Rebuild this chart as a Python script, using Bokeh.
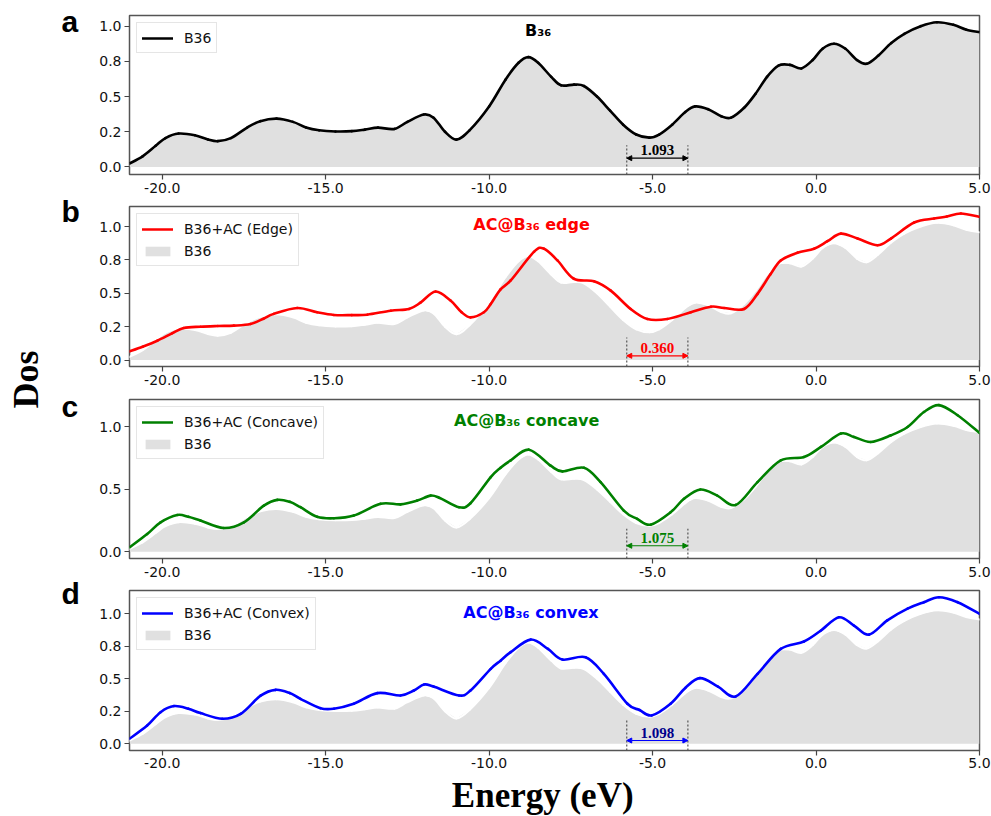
import numpy as np
from bokeh.plotting import figure
from bokeh.layouts import row, column
from bokeh.models import (Range1d, FixedTicker, PrintfTickFormatter, Legend,
                          LegendItem, Arrow, NormalHead)
from bokeh.embed import file_html
from bokeh.resources import INLINE
from bokeh.core.properties import value

# ---------------- data ----------------
energy_b36 = [-21.0, -20.6, -20.2, -19.9, -19.5, -19.0, -18.6, -18.3, -17.9, -17.4,
              -17.0, -16.5, -16.0, -15.6, -15.2, -14.7, -14.2, -13.8, -13.4, -12.9,
              -12.5, -12.0, -11.7, -11.35, -11.0, -10.6, -10.0, -9.5, -9.1, -8.8,
              -8.5, -8.1, -7.8, -7.4, -7.1, -6.7, -6.3, -5.9, -5.5, -5.1,
              -4.8, -4.4, -4.0, -3.7, -3.3, -2.9, -2.6, -2.2, -1.85, -1.5,
              -1.15, -0.8, -0.45, -0.1, 0.2, 0.55, 0.9, 1.25, 1.55, 1.9,
              2.3, 2.7, 3.2, 3.7, 4.2, 4.6, 5.0]
dos_b36 = [0.024, 0.075, 0.15, 0.205, 0.237, 0.225, 0.195, 0.183, 0.205, 0.28,
           0.325, 0.343, 0.32, 0.28, 0.26, 0.252, 0.254, 0.265, 0.279, 0.27,
           0.32, 0.372, 0.35, 0.25, 0.194, 0.26, 0.43, 0.62, 0.74, 0.78,
           0.74, 0.64, 0.58, 0.585, 0.575, 0.50, 0.40, 0.30, 0.23, 0.208,
           0.23, 0.30, 0.39, 0.43, 0.41, 0.36, 0.35, 0.42, 0.52, 0.64,
           0.72, 0.725, 0.70, 0.76, 0.84, 0.875, 0.84, 0.76, 0.733, 0.79,
           0.88, 0.946, 1.0, 1.028, 1.01, 0.975, 0.957]

energy_edge = [-21.0, -20.6, -20.15, -19.7, -19.34, -18.83, -18.3, -17.81, -17.3, -16.9,
               -16.59, -15.87, -15.26, -14.75, -14.2, -13.73, -13.01, -12.45, -12.1, -11.64,
               -11.18, -10.85, -10.57, -10.16, -9.95, -9.65, -9.34, -8.63, -8.32, -7.91,
               -7.41, -6.79, -6.28, -5.67, -5.16, -4.55, -3.83, -3.22, -2.81, -2.2,
               -1.79, -1.4, -1.08, -0.57, -0.06, 0.35, 0.76, 1.27, 1.88, 2.29,
               3.0, 3.61, 4.0, 4.43, 5.0]
dos_edge = [0.065, 0.1, 0.145, 0.2, 0.24, 0.25, 0.255, 0.258, 0.27, 0.31,
            0.346, 0.39, 0.358, 0.338, 0.337, 0.34, 0.37, 0.383, 0.43, 0.513,
            0.446, 0.36, 0.32, 0.358, 0.42, 0.53, 0.596, 0.81, 0.834, 0.746,
            0.609, 0.59, 0.52, 0.383, 0.308, 0.308, 0.358, 0.40, 0.39, 0.383,
            0.496, 0.64, 0.746, 0.804, 0.834, 0.89, 0.947, 0.91, 0.86, 0.91,
            1.03, 1.06, 1.075, 1.098, 1.072]

energy_concave = [-21.0, -20.46, -20.05, -19.54, -19.2, -18.83, -18.12, -17.5, -16.89, -16.48,
                  -16.1, -15.77, -15.26, -14.75, -14.14, -13.32, -12.71, -12.2, -11.79, -11.5,
                  -10.92, -10.57, -9.95, -9.65, -9.34, -8.78, -8.12, -7.76, -7.1, -6.59,
                  -5.88, -5.47, -5.06, -4.45, -4.04, -3.54, -3.02, -2.46, -1.79, -1.08,
                  -0.37, 0.15, 0.76, 1.16, 1.67, 2.29, 2.8, 3.3, 3.76, 4.33, 5.0]
dos_concave = [0.035, 0.142, 0.236, 0.295, 0.28, 0.25, 0.19, 0.236, 0.37, 0.416,
               0.40, 0.357, 0.28, 0.268, 0.29, 0.384, 0.38, 0.41, 0.45, 0.43,
               0.357, 0.389, 0.598, 0.673, 0.732, 0.818, 0.69, 0.644, 0.673, 0.558,
               0.33, 0.263, 0.217, 0.316, 0.424, 0.499, 0.45, 0.375, 0.558, 0.732,
               0.759, 0.84, 0.947, 0.92, 0.88, 0.933, 1.0, 1.12, 1.175, 1.094, 0.952]

energy_convex = [-21.0, -20.46, -20.05, -19.64, -19.2, -18.83, -18.16, -17.6, -16.99, -16.53,
                 -16.1, -15.77, -15.16, -14.75, -14.14, -13.42, -12.71, -12.3, -11.99, -11.7,
                 -10.92, -10.57, -9.95, -9.65, -9.34, -8.73, -8.2, -7.76, -7.05, -6.49,
                 -5.77, -5.4, -5.03, -4.45, -4.0, -3.55, -3.0, -2.46, -1.79, -1.08,
                 -0.37, 0.14, 0.7, 1.16, 1.62, 2.18, 2.8, 3.3, 3.76, 4.33, 5.0]
dos_convex = [0.038, 0.14, 0.243, 0.29, 0.27, 0.236, 0.192, 0.23, 0.37, 0.415,
              0.39, 0.346, 0.274, 0.27, 0.308, 0.39, 0.372, 0.41, 0.456, 0.44,
              0.372, 0.41, 0.577, 0.64, 0.705, 0.802, 0.73, 0.648, 0.666, 0.538,
              0.308, 0.26, 0.218, 0.308, 0.43, 0.505, 0.44, 0.364, 0.538, 0.73,
              0.787, 0.87, 0.974, 0.91, 0.84, 0.95, 1.04, 1.09, 1.128, 1.09, 1.0]

panel_letters = ["a", "b", "c", "d"]
panel_titles = ["B\u2083\u2086", "AC@B\u2083\u2086 edge", "AC@B\u2083\u2086 concave", "AC@B\u2083\u2086 convex"]
legend_labels = ["B36", "B36+AC (Edge)", "B36+AC (Concave)", "B36+AC (Convex)"]
gap_values = ["1.093", "0.360", "1.075", "1.098"]
gap_edges = [-5.79, -3.92]

x_ticks = [-20, -15, -10, -5, 0, 5]
y_ticks_fine = [0, 0.25, 0.5, 0.75, 1.0]
y_ticks_coarse = [0, 0.5, 1.0]
y_label_overrides = {0.25: "0.2", "0.25": "0.2", 0.75: "0.8", "0.75": "0.8"}

# ---------------- styling / layout ----------------
FILL = "#e0e0e0"
TICK_FONT = "DejaVu Sans"
FRAME_W = 850


def smooth_segments(xs, ys):
    """Cubic Bezier segments through the read points (Catmull-Rom handles)."""
    n = len(xs)
    seg = dict(x0=[], y0=[], x1=[], y1=[], cx0=[], cy0=[], cx1=[], cy1=[])
    for i in range(n - 1):
        a = max(i - 1, 0)
        d = min(i + 2, n - 1)
        seg["x0"].append(xs[i]); seg["y0"].append(ys[i])
        seg["x1"].append(xs[i + 1]); seg["y1"].append(ys[i + 1])
        seg["cx0"].append(xs[i] + (xs[i + 1] - xs[a]) / 6.0)
        seg["cy0"].append(ys[i] + (ys[i + 1] - ys[a]) / 6.0)
        seg["cx1"].append(xs[i + 1] - (xs[d] - xs[i]) / 6.0)
        seg["cy1"].append(ys[i + 1] - (ys[d] - ys[i]) / 6.0)
    return seg


panels = [
    dict(ex=energy_b36, dy=dos_b36, color="black", y=(-0.054, 1.076),
         fh=159, top=15, bot=28, standoff=3, ticks=y_ticks_fine, title_x=-8.5, title_y=0.967,
         arrow_y=0.062, dash_top=0.154, gcolor="black"),
    dict(ex=energy_edge, dy=dos_edge, color="#ff0000", y=(-0.048, 1.15),
         fh=160, top=4, bot=28, standoff=3, ticks=y_ticks_fine, title_x=-8.7, title_y=1.013,
         arrow_y=0.032, dash_top=0.17, gcolor="#ff0000"),
    dict(ex=energy_concave, dy=dos_concave, color="#008000", y=(-0.054, 1.22),
         fh=159, top=5, bot=28, standoff=3, ticks=y_ticks_coarse, title_x=-8.85, title_y=1.053,
         arrow_y=0.048, dash_top=0.185, gcolor="#008000"),
    dict(ex=energy_convex, dy=dos_convex, color="#0000ff", y=(-0.052, 1.18),
         fh=160, top=4, bot=24, standoff=2, ticks=y_ticks_fine, title_x=-8.72, title_y=1.013,
         arrow_y=0.025, dash_top=0.18, gcolor="#00008b"),
]

figs = []
for i, cfg in enumerate(panels):
    p = figure(x_range=Range1d(-21, 5), y_range=Range1d(*cfg["y"]),
               frame_width=FRAME_W, frame_height=cfg["fh"],
               min_border_left=39, min_border_right=12,
               min_border_top=cfg["top"], min_border_bottom=cfg["bot"],
               output_backend="svg", toolbar_location=None)
    p.xgrid.visible = False
    p.ygrid.visible = False
    p.outline_line_color = "#555555"
    p.outline_line_width = 1.5
    p.background_fill_color = "white"
    p.border_fill_color = "white"

    for ax in (p.xaxis[0], p.yaxis[0]):
        ax.axis_line_color = None
        ax.major_tick_out = 5
        ax.major_tick_in = 0
        ax.minor_tick_out = 0
        ax.minor_tick_in = 0
        ax.major_tick_line_color = "#444444"
        ax.major_tick_line_width = 1.2
        ax.major_label_text_font = TICK_FONT
        ax.major_label_text_font_size = "14px"
        ax.major_label_text_color = "#111111"
    p.yaxis.major_label_standoff = 3
    p.xaxis.major_label_standoff = cfg["standoff"]
    p.xaxis.ticker = FixedTicker(ticks=x_ticks)
    p.xaxis.formatter = PrintfTickFormatter(format="%.1f")
    p.yaxis.ticker = FixedTicker(ticks=cfg["ticks"])
    p.yaxis.formatter = PrintfTickFormatter(format="%.1f")
    p.yaxis.major_label_overrides = y_label_overrides

    area = p.varea(x=energy_b36, y1=0, y2=dos_b36, fill_color=FILL, fill_alpha=1.0)
    if i > 0:
        p.bezier(line_color="white", line_width=2.0, line_cap="round",
                 **smooth_segments(energy_b36, dos_b36))
    ln = p.bezier(line_color=cfg["color"], line_width=2.6, line_cap="round",
                  **smooth_segments(cfg["ex"], cfg["dy"]))

    # gap annotation
    ylo = cfg["y"][0]
    p.segment(x0=gap_edges, y0=[ylo, ylo], x1=gap_edges,
              y1=[cfg["dash_top"], cfg["dash_top"]],
              line_color="#555555", line_dash="2 2", line_width=1.2)
    gc = cfg["color"]
    p.add_layout(Arrow(start=NormalHead(size=5, fill_color=gc, line_color=gc),
                       end=NormalHead(size=5, fill_color=gc, line_color=gc),
                       x_start=gap_edges[0], y_start=cfg["arrow_y"],
                       x_end=gap_edges[1], y_end=cfg["arrow_y"],
                       line_color=gc, line_width=1.2))
    p.text(x=[(gap_edges[0] + gap_edges[1]) / 2], y=[cfg["arrow_y"] + 0.022],
           text=[gap_values[i]],
           text_font=value("Liberation Serif"), text_font_style="bold",
           text_font_size="15px", text_color=cfg["gcolor"],
           text_align="center", text_baseline="bottom")

    # panel title
    p.text(x=[cfg["title_x"]], y=[cfg["title_y"]], text=[panel_titles[i]],
           text_font=value("DejaVu Sans"), text_font_style="bold",
           text_font_size="16px", text_color=cfg["color"],
           text_align="center", text_baseline="alphabetic")

    items = [LegendItem(label=legend_labels[i], renderers=[ln], index=0)]
    if i > 0:
        items.append(LegendItem(label="B36", renderers=[area]))
    leg = Legend(items=items, location="top_left", margin=7, padding=5,
                 spacing=3, glyph_width=31, glyph_height=12, label_height=19,
                 label_standoff=11, label_text_font=TICK_FONT,
                 label_text_font_size="14px", label_text_color="#111111",
                 border_line_color="#cccccc", border_line_width=1,
                 background_fill_alpha=0.85)
    p.add_layout(leg)
    figs.append(p)

# bottom axis title strip
STRIP_H = 42
bottom = figure(width=901, height=STRIP_H, x_range=Range1d(0, 901), y_range=Range1d(0, STRIP_H),
                x_axis_location=None, y_axis_location=None, min_border=0,
                output_backend="svg", toolbar_location=None)
bottom.grid.visible = False
bottom.outline_line_color = None
bottom.text(x=[438], y=[21.5], text=["Energy (eV)"], text_font=value("Liberation Serif"),
            text_font_style="bold", text_font_size="35px", text_color="black",
            text_align="center", text_baseline="middle")

# left strip: y title and panel letters
side = figure(width=90, height=816, x_range=Range1d(0, 90), y_range=Range1d(0, 816),
              x_axis_location=None, y_axis_location=None, min_border=0,
              output_backend="svg", toolbar_location=None)
side.grid.visible = False
side.outline_line_color = None
side.text(x=[25], y=[816 - 379], text=["Dos"], angle=np.pi / 2,
          text_font=value("Liberation Serif"), text_font_style="bold",
          text_font_size="36px", text_color="black",
          text_align="center", text_baseline="alphabetic")
letter_baselines = [33, 223, 418, 605]
side.text(x=[61] * 4, y=[816 - b + 12 for b in letter_baselines], text=panel_letters,
          text_font=value("Liberation Sans"), text_font_style="bold",
          text_font_size="30px", text_color="black",
          text_align="left", text_baseline="alphabetic")

layout = row(side, column(*figs, bottom, spacing=0), spacing=0)
open("out.html", "w").write(file_html(layout, INLINE))
